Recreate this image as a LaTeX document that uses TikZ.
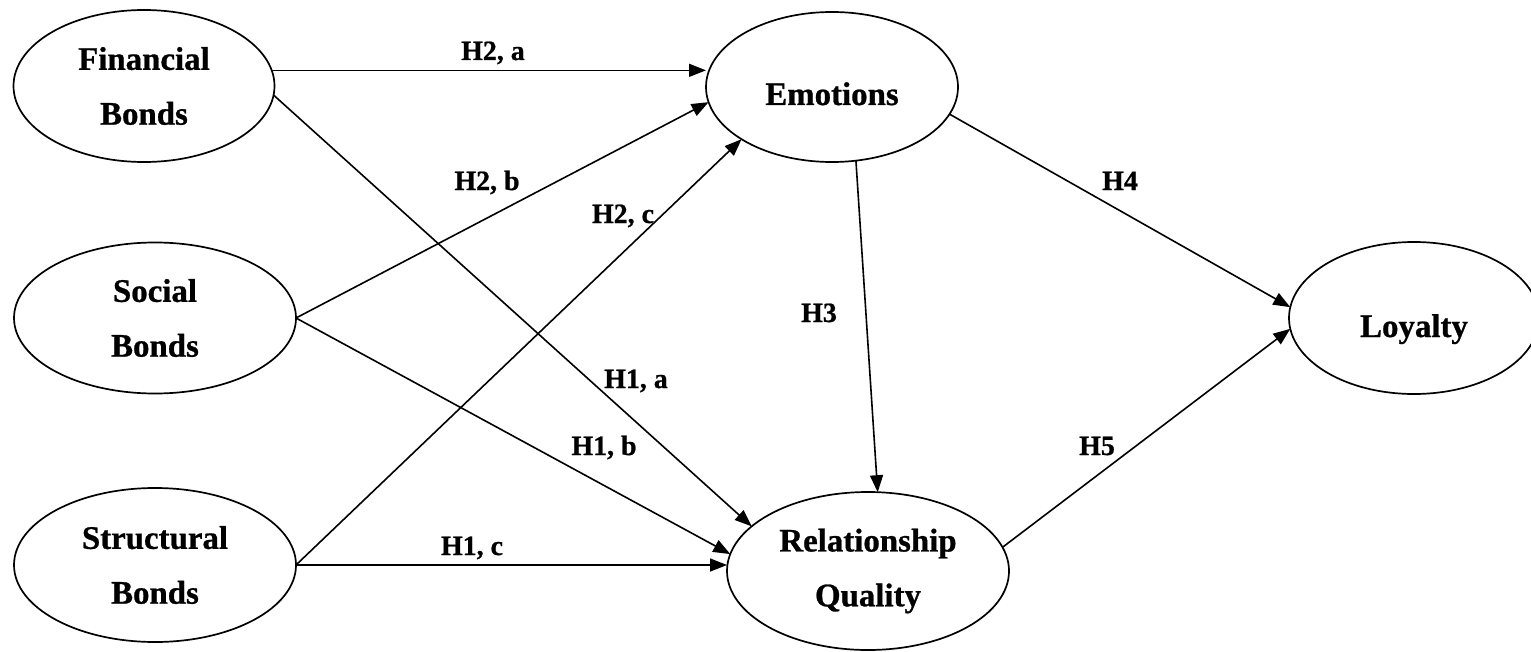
\documentclass[tikz,border=0pt]{standalone}
\usepackage{fontspec}
\setmainfont{Liberation Serif}[BoldFeatures={FakeBold=0.8}]
\usetikzlibrary{arrows.meta,shapes.geometric}
\begin{document}
\begin{tikzpicture}[x=1bp,y=-1bp,
  construct/.style={ellipse, draw, line width=1.7bp, inner sep=0pt, outer sep=0pt,
    align=center, font=\fontsize{33}{55}\selectfont\bfseries},
  link/.style={line width=1.6bp, -{Triangle[length=17bp,width=13bp]}},
  hyp/.style={anchor=base, inner sep=0pt, font=\fontsize{28}{30}\selectfont\bfseries}]
\clip (0,0) rectangle (1531,652);

% latent constructs
\node[construct, minimum width=261bp, minimum height=152bp] (fin) at (144,86) {Financial\\Bonds};
\node[construct, minimum width=282bp, minimum height=151bp] (soc) at (155,318) {Social\\Bonds};
\node[construct, minimum width=282bp, minimum height=154bp] (str) at (155,565) {Structural\\Bonds};
\node[construct, minimum width=252bp, minimum height=150bp, text height=36bp, text depth=0pt] (emo) at (832,87) {Emotions};
\node[construct, minimum width=282bp, minimum height=158bp] (rq) at (868,571) {Relationship\\Quality};
\node[construct, minimum width=250bp, minimum height=152bp, text height=38bp, text depth=0pt] (loy) at (1414,318) {Loyalty};

% hypothesised paths
\draw[link] (fin.7) -- (fin.7 -| emo.west);
\draw[link] (fin.-4) -- (rq.159);
\draw[link] (soc.east) -- (emo.187);
\draw[link] (soc.east) -- (rq.173);
\draw[link] (str.east) -- (emo.210);
\draw[link] (str.east) -- (str.east -| rq.west);
\draw[link] (emo.-72) -- (rq.83);
\draw[link] (emo.-13) -- (loy.175);
\draw[link] (rq.10) -- (loy.185);

% hypothesis labels
\node[hyp] (h2a) at (493,60) {H2, a};
\node[hyp] (h2b) at (487,190) {H2, b};
\node[hyp] (h2c) at (623,223) {H2, c};
\node[hyp] (h1a) at (636,388) {H1, a};
\node[hyp] (h1b) at (604,455) {H1, b};
\node[hyp] (h1c) at (472,555) {H1, c};
\node[hyp] (h3) at (819,322) {H3};
\node[hyp] (h4) at (1120,190) {H4};
\node[hyp] (h5) at (1097,455) {H5};
\end{tikzpicture}
\end{document}
